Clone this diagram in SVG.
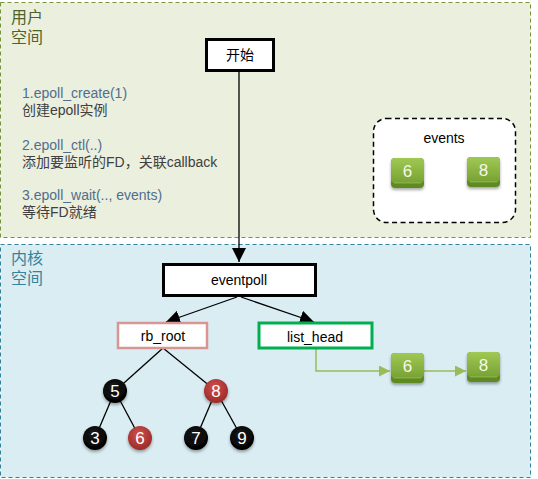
<svg xmlns="http://www.w3.org/2000/svg" width="538" height="479" viewBox="0 0 538 479">
<style>
text{font-family:"Liberation Sans","Noto Sans CJK SC",sans-serif}
.box{fill:#fff;stroke:#000;stroke-width:3}
.lbl{font-size:14px;fill:#000;text-anchor:middle}
.cmd{font-size:14px;fill:#4F6E8E}
.desc{font-size:14px;fill:#404040}
.edge{stroke:#000;stroke-width:1.3;fill:none}
.gedge{stroke:#9BBB59;stroke-width:1.5;fill:none}
.num{font-size:17px;fill:#fff;text-anchor:middle}
.gnum{font-size:17px;fill:#F4F8EC;text-anchor:middle}
</style>
<defs>
<marker id="ah" viewBox="0 0 10 10" refX="10" refY="5" markerWidth="8" markerHeight="8" markerUnits="userSpaceOnUse" orient="auto"><path d="M0,0L10,5L0,10z" fill="#000"/></marker>
<marker id="ahl" viewBox="0 0 10 10" refX="10" refY="5" markerWidth="14" markerHeight="14" markerUnits="userSpaceOnUse" orient="auto"><path d="M0,0L10,5L0,10z" fill="#000"/></marker>
<marker id="gah" viewBox="0 0 10 10" refX="10" refY="5" markerWidth="11" markerHeight="11" markerUnits="userSpaceOnUse" orient="auto"><path d="M0,0L10,5L0,10z" fill="#9BBB59"/></marker>
<linearGradient id="gtop" x1="0" y1="0" x2="0" y2="1"><stop offset="0" stop-color="#A0C853"/><stop offset="1" stop-color="#77A233"/></linearGradient>
<radialGradient id="red" cx="0.45" cy="0.35" r="0.65"><stop offset="0" stop-color="#D0504D"/><stop offset="1" stop-color="#9A2B28"/></radialGradient>
<radialGradient id="blk" cx="0.45" cy="0.35" r="0.65"><stop offset="0" stop-color="#1a1a1a"/><stop offset="1" stop-color="#000"/></radialGradient>
<filter id="sh" x="-30%" y="-30%" width="160%" height="170%"><feDropShadow dx="0" dy="2" stdDeviation="1.5" flood-color="#000" flood-opacity="0.35"/></filter>
<g id="gblk">
<rect x="0" y="0" width="33" height="30" rx="4" fill="#5E8A24" filter="url(#sh)"/>
<rect x="0" y="0" width="33" height="25" rx="4" fill="url(#gtop)"/>
<line x1="3" y1="25" x2="30" y2="25" stroke="#B5D67A" stroke-width="0.8" opacity="0.6"/>
</g>
</defs>

<g id="user-space">
<rect x="0.5" y="2.5" width="530" height="235" fill="#EBEFDE" stroke="#77933C" stroke-width="1" stroke-dasharray="4,3"/>
<text x="11" y="23" font-size="16" fill="#4F6228">用户</text>
<text x="11" y="43" font-size="16" fill="#4F6228">空间</text>
<text class="cmd" x="22" y="98">1.epoll_create(1)</text>
<text class="desc" x="22" y="115">创建epoll实例</text>
<text class="cmd" x="22" y="150">2.epoll_ctl(..)</text>
<text class="desc" x="22" y="167">添加要监听的FD，关联callback</text>
<text class="cmd" x="22" y="200">3.epoll_wait(.., events)</text>
<text class="desc" x="22" y="217">等待FD就绪</text>
</g>

<g id="kernel-space">
<rect x="0.5" y="244.5" width="530" height="233" fill="#DAEDF3" stroke="#31849B" stroke-width="1" stroke-dasharray="4,3"/>
<text x="11" y="264" font-size="16" fill="#31849B">内核</text>
<text x="11" y="284" font-size="16" fill="#31849B">空间</text>
</g>

<g id="connectors">
<line class="edge" x1="239" y1="71" x2="239" y2="262" marker-end="url(#ahl)"/>
<line class="edge" x1="237" y1="297" x2="166" y2="322" marker-end="url(#ahl)"/>
<line class="edge" x1="241" y1="297" x2="314" y2="322" marker-end="url(#ahl)"/>
<line class="edge" x1="163" y1="348" x2="115" y2="391"/>
<line class="edge" x1="163" y1="348" x2="216" y2="391"/>
<line class="edge" x1="115" y1="391" x2="95" y2="438"/>
<line class="edge" x1="115" y1="391" x2="140" y2="438"/>
<line class="edge" x1="216" y1="391" x2="196" y2="438"/>
<line class="edge" x1="216" y1="391" x2="242" y2="438"/>
<polyline class="gedge" points="316,349 316,371 390,371" marker-end="url(#gah)"/>
<line class="gedge" x1="424" y1="371" x2="466" y2="371" marker-end="url(#gah)"/>
</g>

<g id="start">
<rect class="box" x="206.5" y="39.5" width="67" height="31"/>
<text class="lbl" x="240" y="60" font-size="15">开始</text>
</g>

<g id="events">
<rect x="373.5" y="118.5" width="142" height="104" rx="13" fill="#fff" stroke="#000" stroke-width="1.5" stroke-dasharray="5,3.5"/>
<text class="lbl" x="444" y="143" font-size="15">events</text>
<g id="ev6"><use href="#gblk" x="391" y="158"/><text class="gnum" x="407.5" y="177">6</text></g>
<g id="ev8"><use href="#gblk" x="467" y="157"/><text class="gnum" x="483.5" y="176">8</text></g>
</g>

<g id="eventpoll">
<rect class="box" x="163.5" y="264.5" width="152" height="31"/>
<text class="lbl" x="239" y="285">eventpoll</text>
</g>

<g id="rb_root">
<rect x="118" y="323" width="89" height="25" fill="#fff" stroke="#D99594" stroke-width="2.5"/>
<text class="lbl" x="163" y="341">rb_root</text>
</g>

<g id="list_head">
<rect x="259" y="323" width="113" height="25" fill="#fff" stroke="#00B050" stroke-width="3"/>
<text class="lbl" x="315" y="342">list_head</text>
</g>

<g id="n5"><circle cx="115" cy="391" r="12" fill="url(#blk)" filter="url(#sh)"/><text class="num" x="115" y="397">5</text></g>
<g id="n8"><circle cx="216" cy="391" r="12" fill="url(#red)" filter="url(#sh)"/><text class="num" x="216" y="397">8</text></g>
<g id="n3"><circle cx="95" cy="438" r="12" fill="url(#blk)" filter="url(#sh)"/><text class="num" x="95" y="444">3</text></g>
<g id="n6"><circle cx="140" cy="438" r="12" fill="url(#red)" filter="url(#sh)"/><text class="num" x="140" y="444">6</text></g>
<g id="n7"><circle cx="196" cy="438" r="12" fill="url(#blk)" filter="url(#sh)"/><text class="num" x="196" y="444">7</text></g>
<g id="n9"><circle cx="242" cy="438" r="12" fill="url(#blk)" filter="url(#sh)"/><text class="num" x="242" y="444">9</text></g>

<g id="list6"><use href="#gblk" x="391" y="353"/><text class="gnum" x="407.5" y="372">6</text></g>
<g id="list8"><use href="#gblk" x="467" y="352"/><text class="gnum" x="483.5" y="371">8</text></g>
</svg>
